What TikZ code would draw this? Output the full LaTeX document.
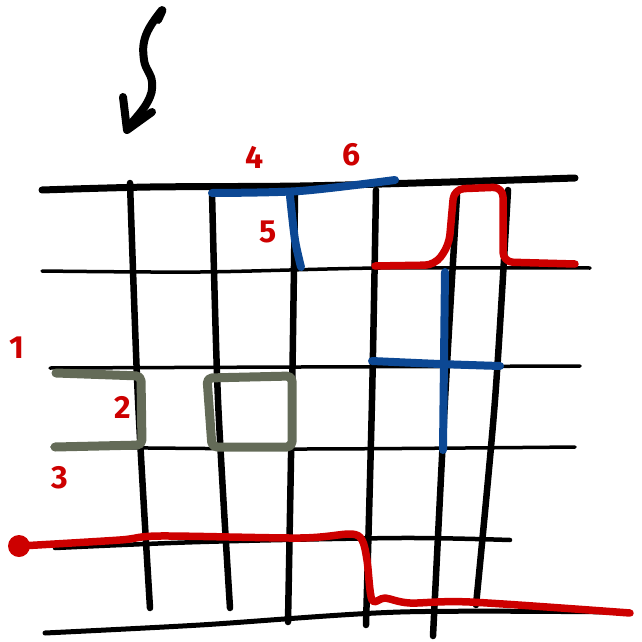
\documentclass[tikz,border=0pt]{standalone}
\usepackage{fontspec}
\setmainfont{Fira Sans}
\definecolor{rd}{RGB}{205,0,0}
\definecolor{bl}{RGB}{12,72,148}
\definecolor{gr}{RGB}{100,107,88}
\tikzset{
  gridh/.style={line width=3.5pt},
  gridv/.style={line width=6.5pt},
  bluepen/.style={bl,line width=8pt},
  graypen/.style={gr,line width=9pt,rounded corners=5pt},
  redpen/.style={rd,line width=7.5pt},
  lbl/.style={rd,font=\fontsize{32}{32}\selectfont\bfseries,inner sep=0pt}
}
\begin{document}
\begin{tikzpicture}[x=1pt,y=-1pt,line cap=round,line join=round]
\useasboundingbox (0,0) rectangle (642,642);
% arrow
\draw[line width=8pt] plot[smooth,tension=0.7] coordinates {(158,20)(162,10)(146,35)(144,60)(152,82)(147,103)(127,128)};
\draw[line width=8pt] (123,97) -- (127,130) -- (152,112);
% horizontal grid lines
\draw[line width=7pt] plot[smooth] coordinates {(42,190)(150,187)(300,186)(450,182)(575,178)};
\draw[gridh] plot[smooth] coordinates {(42,271)(200,272)(380,268)(590,268)};
\draw[gridh] plot[smooth] coordinates {(50,368)(300,367)(580,366)};
\draw[gridh] plot[smooth] coordinates {(52,447)(300,449)(575,447)};
\draw[line width=4.5pt] plot[smooth] coordinates {(55,548)(200,542)(400,538)(510,540)};
\draw[line width=5pt] plot[smooth] coordinates {(45,633)(200,625)(400,612)(620,612)};
% vertical grid lines
\draw[gridv] plot[smooth] coordinates {(130,183)(138,400)(150,608)};
\draw[gridv] plot[smooth] coordinates {(212,192)(218,400)(230,608)};
\draw[gridv] plot[smooth] coordinates {(295,195)(292,400)(288,622)};
\draw[gridv] plot[smooth] coordinates {(376,190)(372,400)(366,625)};
\draw[gridv] plot[smooth] coordinates {(457,195)(445,400)(433,636)};
\draw[gridv] plot[smooth] coordinates {(508,190)(495,400)(476,605)};
% gray shapes
\draw[graypen] (56,373) -- (141,376) -- (142,445) -- (55,447);
\draw[graypen] (207,378) -- (292,376) -- (292,447) -- (212,447) -- cycle;
% blue shapes
\draw[bluepen] plot[smooth] coordinates {(212,193)(300,191)(395,180)};
\draw[bluepen] plot[smooth] coordinates {(290,196)(295,240)(301,267)};
\draw[bluepen] plot[smooth] coordinates {(372,361)(440,364)(500,366)};
\draw[bluepen] plot[smooth] coordinates {(445,272)(444,360)(443,450)};
% red paths
\draw[redpen,rounded corners=10pt] (375,266) -- (435,265) -- (449,245) -- (454,189) -- (503,187) -- (503,262) -- (575,264);
\fill[rd] (19,546) circle (11pt);
\draw[redpen] plot[smooth,tension=0.5] coordinates {(20,546)(120,540)(160,536)(300,538)(350,534)(362,540)(367,560)(372,600)(385,598)(410,603)(470,602)(630,613)};
% labels
\node[lbl] (l4) at (255,157) {4};
\node[lbl] (l6) at (352,155) {6};
\node[lbl] (l5) at (268,232) {5};
\node[lbl] (l1) at (17,348) {1};
\node[lbl] (l2) at (123,407) {2};
\node[lbl] (l3) at (60,478) {3};
\end{tikzpicture}
\end{document}
